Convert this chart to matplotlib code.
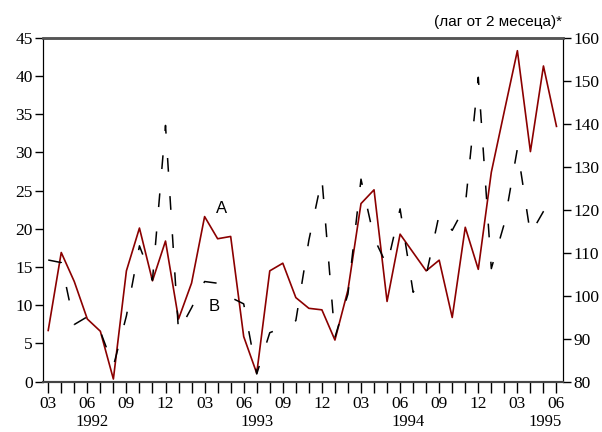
import matplotlib.pyplot as plt

# месеци од 03.1992 до 06.1995
meseci = list(range(40))
oznaki = ['03', '06', '09', '12'] * 3 + ['03', '06']
godini = ['1992', '1993', '1994', '1995']
godini_poz = [3.4, 16.0, 27.6, 38.1]

# серија A (лева оска)
serija_a = [6.7, 16.9, 13.1, 8.2, 6.6, 0.35, 14.5, 20.1, 13.2, 18.4,
            8.2, 12.9, 21.6, 18.7, 19.0, 5.9, 1.1, 14.5, 15.5, 11.0,
            9.6, 9.4, 5.45, 12.0, 23.3, 25.1, 10.5, 19.3, 16.9, 14.5,
            15.9, 8.4, 20.2, 14.7, 27.4, 35.4, 43.3, 30.1, 41.3, 33.4]

# серија B (десна оска, лаг од 2 месеца)
serija_b = [108.3, 107.7, 93.3, 95.1, 91.7, 83.6, 95.3, 111.6, 103.6, 139.6,
            91.6, 97.2, 103.3, 102.9, 99.6, 98.1, 81.8, 91.4, 92.6, 94.2,
            112.9, 127.3, 90.3, 100.4, 127.1, 113.4, 107.0, 120.2, 100.8, 104.7,
            118.9, 115.2, 120.9, 150.8, 106.3, 116.8, 134.2, 114.3, 119.6, 123.6]

serif = 'Liberation Serif'
sans = 'Liberation Sans'

fig = plt.figure(figsize=(6.02, 4.32), dpi=100)
ax = fig.add_axes([43 / 602, 1 - 381.7 / 432, 520 / 602, 344 / 432])
ax2 = ax.twinx()

ax.plot(meseci, serija_a, color='#8b0000', lw=1.2, zorder=3)
ax2.plot(meseci, serija_b, color='black', lw=1.1, linestyle=(0, (9, 16)))

ax.set_xlim(-0.4, 39.5)
ax.set_ylim(0, 45)
ax2.set_ylim(80, 160)
ax.set_yticks(range(0, 46, 5))
ax2.set_yticks(range(80, 161, 10))
ax.set_xticks(meseci)
ax.set_xticklabels([oznaki[i // 3] if i % 3 == 0 else '' for i in meseci])

for a in (ax, ax2):
    a.tick_params(direction='out', length=6, width=1, labelsize=12.5, pad=1.5)
    for lab in a.get_xticklabels() + a.get_yticklabels():
        lab.set_fontfamily(serif)
    a.spines['top'].set_color('#555555')
    a.spines['top'].set_linewidth(1.8)
    a.spines['bottom'].set_color('#444444')
    a.spines['bottom'].set_linewidth(1.5)
ax.tick_params(axis='x', length=8, pad=2)

for g, p in zip(godini, godini_poz):
    ax.text(p, -0.118, g, transform=ax.get_xaxis_transform(), ha='center',
            va='center', fontsize=12, family=serif)

ax.text(13.3, 22.6, 'A', fontsize=12, family=sans, ha='center', va='center')
ax.text(12.7, 9.8, 'B', fontsize=12, family=sans, ha='center', va='center')
fig.text(562 / 602, 1 - 22 / 432, '(лаг от 2 месеца)*', fontsize=11,
         family=sans, ha='right', va='center')

fig.savefig('out.png', dpi=100)
